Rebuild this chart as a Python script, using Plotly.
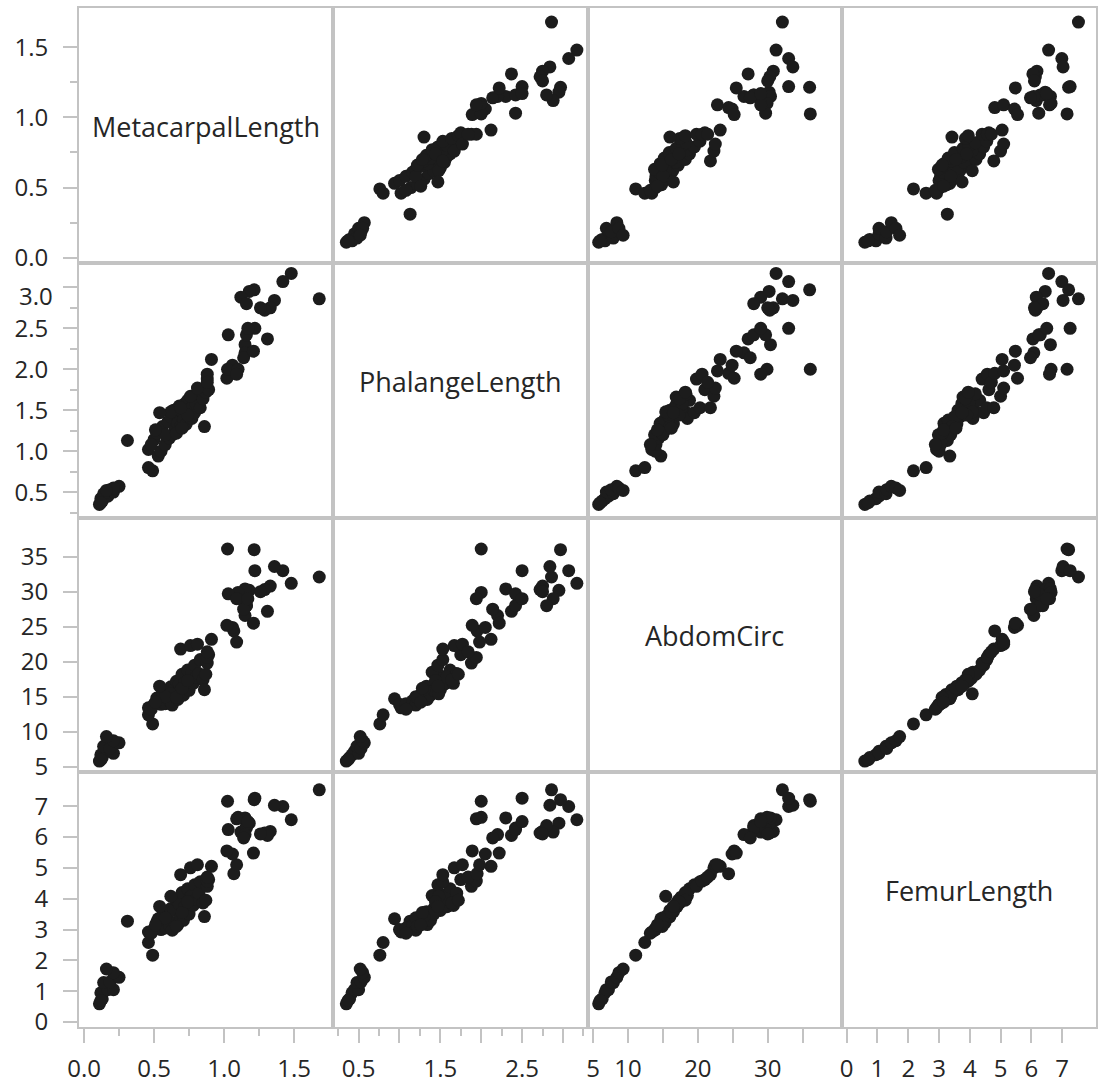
import plotly.graph_objects as go
from plotly.subplots import make_subplots

names = ["MetacarpalLength", "PhalangeLength", "AbdomCirc", "FemurLength"]

metacarpal = [0.11, 0.13, 0.12, 0.17, 0.21, 0.14, 0.185, 0.25, 0.21, 0.16, 0.12,
              0.49, 0.46, 0.31,
              0.46, 0.50, 0.53, 0.55, 0.52, 0.56, 0.58, 0.60, 0.61, 0.62, 0.63, 0.64, 0.65, 0.66,
              0.67, 0.68, 0.69, 0.70, 0.71, 0.72, 0.73, 0.74, 0.75, 0.76, 0.77, 0.78, 0.79, 0.80,
              0.82, 0.83, 0.85, 0.86, 0.87, 0.88, 0.89, 0.62, 0.58, 0.66, 0.70, 0.74, 0.48, 0.51, 0.54,
              0.69, 0.76, 0.81, 0.88, 0.88, 0.91, 1.07, 1.09, 1.06, 1.02,
              1.68, 1.48, 1.42, 1.36, 1.33, 1.29, 1.31, 1.22, 1.215, 1.025, 1.18, 1.12, 1.16,
              1.15, 1.16, 1.15, 1.10, 1.03, 1.14, 1.09, 1.17, 1.26, 1.21]

phalange = [0.35, 0.39, 0.42, 0.45, 0.50, 0.48, 0.53, 0.57, 0.55, 0.52, 0.37,
            0.76, 0.80, 1.13,
            1.02, 1.14, 0.94, 1.00, 1.22, 1.30, 1.08, 1.36, 1.16, 1.42, 1.20, 1.50, 1.26, 1.45,
            1.34, 1.55, 1.30, 1.48, 1.38, 1.58, 1.33, 1.62, 1.42, 1.52, 1.40, 1.66, 1.47, 1.58,
            1.70, 1.53, 1.64, 1.30, 1.72, 1.88, 1.75, 1.48, 1.20, 1.22, 1.28, 1.44, 1.08, 1.26, 1.47,
            1.53, 1.67, 1.77, 1.94, 1.84, 2.12, 1.95, 1.98, 2.05, 1.89,
            2.86, 3.17, 3.07, 2.84, 2.75, 2.72, 2.37, 2.50, 2.97, 2.00, 2.95, 2.88, 2.80,
            2.30, 2.42, 2.20, 2.00, 2.42, 2.14, 1.94, 2.50, 2.75, 2.22]

abdom = [5.8, 6.3, 6.7, 7.2, 6.9, 7.9, 7.6, 8.4, 8.7, 9.3, 6.0,
         11.1, 12.4, None,
         13.4, 13.9, 14.7, 13.9, 14.8, 15.6, 14.0, 15.1, 14.4, 16.4, 13.8, 16.0, 15.3, 17.2,
         14.6, 16.8, 15.8, 18.2, 15.2, 17.0, 16.5, 18.8, 15.9, 17.6, 18.5, 16.9, 19.5, 17.8,
         18.3, 20.3, 17.4, 16.0, 18.2, 19.8, 21.0, 15.4, 15.0, 14.9, 16.2, 17.3, 13.2, 14.2, 16.5,
         21.8, 22.3, 22.5, 20.6, 21.4, 23.2, 24.4, 22.8, 24.9, 25.2,
         32.1, 31.2, 33.0, 33.6, 30.8, 30.3, 27.2, 33.0, 36.0, 36.1, 30.2, 29.0, 28.0,
         30.4, 28.0, 26.6, 29.9, 29.7, 27.5, 29.0, 29.0, 30.0, 25.5]

femur = [0.59, 0.75, 0.95, 1.05, 1.05, 1.28, 1.30, 1.45, 1.60, 1.72, 0.70,
         2.17, 2.58, 3.27,
         2.92, 3.02, 3.35, 3.00, 3.25, 3.45, 3.05, 3.30, 3.12, 3.68, 2.98, 3.62, 3.22, 3.95,
         3.16, 3.82, 3.40, 4.20, 3.30, 3.74, 3.58, 4.32, 3.50, 4.05, 4.10, 3.78, 4.45, 3.98,
         4.18, 4.55, 3.86, 3.42, 3.95, 4.40, 4.62, 4.08, 3.38, 3.10, 3.55, 3.90, 2.88, 3.15, 3.75,
         4.78, 5.00, 5.10, 4.57, 4.70, 5.05, 4.81, 5.10, 5.45, 5.55,
         7.53, 6.56, 6.99, 7.03, 6.18, 6.13, 6.05, 7.26, 7.21, 7.16, 6.45, 6.16, 6.37,
         6.62, 6.29, 6.08, 6.64, 6.24, 5.97, 6.59, 6.50, 6.10, 5.48]

data = [metacarpal, phalange, abdom, femur]

ranges = [[-0.036, 1.78], [0.19, 3.30], [4.2, 40.6], [-0.16, 8.1]]
major_ticks = [[0, 0.5, 1.0, 1.5],
               [0.5, 1.0, 1.5, 2.0, 2.5, 3.0],
               [5, 10, 15, 20, 25, 30, 35],
               [0, 1, 2, 3, 4, 5, 6, 7]]
y_labels = [["0.0", "0.5", "1.0", "1.5"],
            ["0.5", "1.0", "1.5", "2.0", "2.5", ""],
            ["5", "10", "15", "20", "25", "30", "35"],
            ["0", "1", "2", "3", "4", "5", "6", "7"]]
x_labels = [["0.0", "0.5", "1.0", "1.5"],
            ["0.5", "", "1.5", "", "2.5", ""],
            ["5", "10", "", "20", "", "30", ""],
            ["0", "1", "2", "3", "4", "5", "6", "7"]]
minor_y = [[0.25, 0.75, 1.25],
           [0.25, 0.75, 1.25, 1.75, 2.25, 2.75],
           None, None]
minor_x = [[0.25, 0.75, 1.25],
           [0.25, 0.75, 1.25, 1.75, 2.25, 2.75, 3.25],
           None, None]

GRAY = "#c3c3c3"
TXT = "#262626"
FONT = "Open Sans"
DOT = "#1c1c1c"
TICK_SIZE = 24
DIAG_SIZE = 27

fig = make_subplots(rows=4, cols=4, horizontal_spacing=0, vertical_spacing=0)

for r in range(4):
    for c in range(4):
        idx = r * 4 + c + 1
        if r != c:
            fig.add_trace(go.Scatter(x=data[c], y=data[r], mode="markers",
                                     marker=dict(size=13, color=DOT, line=dict(width=0)),
                                     showlegend=False, hoverinfo="skip"),
                          row=r + 1, col=c + 1)
        else:
            # empty trace so the diagonal subplot is created
            fig.add_trace(go.Scatter(x=[None], y=[None], mode="markers",
                                     showlegend=False, hoverinfo="skip"),
                          row=r + 1, col=c + 1)
            sfx = "" if idx == 1 else str(idx)
            fig.add_annotation(text=names[r], x=0.5, y=0.5, xref=f"x{sfx} domain",
                               yref=f"y{sfx} domain", showarrow=False, yshift=9,
                               font=dict(family=FONT, size=DIAG_SIZE, color=TXT))
        xa = dict(range=ranges[c], showline=True, mirror=True, linecolor=GRAY, linewidth=2,
                  showgrid=False, zeroline=False, fixedrange=True)
        if r == 3:
            xa.update(ticks="outside", tickvals=major_ticks[c], ticktext=x_labels[c],
                      ticklen=14, tickwidth=2, tickcolor=GRAY, ticklabelstandoff=5,
                      tickfont=dict(family=FONT, size=TICK_SIZE, color=TXT))
            if minor_x[c]:
                xa["minor"] = dict(tickvals=minor_x[c], ticks="outside", ticklen=7,
                                   tickwidth=2, tickcolor=GRAY)
        else:
            xa.update(showticklabels=False, ticks="")
        ya = dict(range=ranges[r], showline=True, mirror=True, linecolor=GRAY, linewidth=2,
                  showgrid=False, zeroline=False, fixedrange=True)
        if c == 0:
            ya.update(ticks="outside", tickvals=major_ticks[r], ticktext=y_labels[r],
                      ticklen=14, tickwidth=2, tickcolor=GRAY, ticklabelstandoff=10,
                      tickfont=dict(family=FONT, size=TICK_SIZE, color=TXT))
            if minor_y[r]:
                ya["minor"] = dict(tickvals=minor_y[r], ticks="outside", ticklen=7,
                                   tickwidth=2, tickcolor=GRAY)
        else:
            ya.update(showticklabels=False, ticks="")
        fig.update_xaxes(xa, row=r + 1, col=c + 1)
        fig.update_yaxes(ya, row=r + 1, col=c + 1)

# the "3.0" label of PhalangeLength sits slightly below its tick in the original
fig.add_annotation(text="3.0", x=0, xref="paper", xanchor="right", xshift=-24,
                   y=2.90, yref="y5", showarrow=False,
                   font=dict(family=FONT, size=TICK_SIZE, color=TXT))

fig.update_layout(width=1099, height=1085, margin=dict(l=79, r=1, t=8, b=57),
                  paper_bgcolor="white", plot_bgcolor="white")

fig.write_html("out.html")
